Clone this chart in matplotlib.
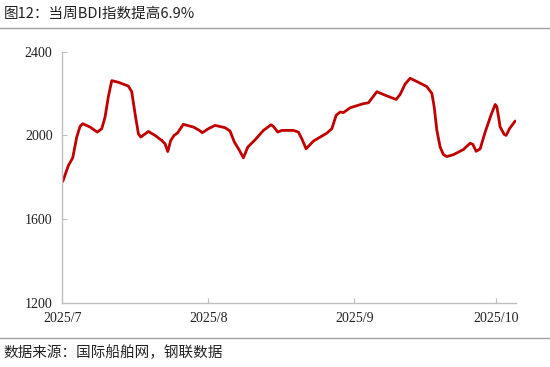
import pandas as pd
import matplotlib.pyplot as plt
from matplotlib.lines import Line2D

# BDI index readings
# day_offset = days since 2025-07-01
day_offset = [
    0.1, 1.27, 2.21, 3.06, 3.76, 4.33, 5.88, 7.43, 8.37, 9.07,
    9.77, 10.49, 11.89, 14.01, 14.73, 15.44, 16.14, 16.65, 18.26, 19.68,
    21.10, 21.80, 22.38, 23.01, 23.72, 24.42, 25.69, 27.81, 28.87, 29.72,
    31.0, 32.42, 34.54, 35.60, 36.52, 37.52, 38.43, 39.36, 40.91, 42.68,
    44.31, 44.80, 45.73, 46.58, 49.04, 50.11, 50.83, 51.74, 53.29, 56.14,
    57.20, 58.11, 58.96, 59.66, 61.08, 63.91, 64.97, 66.75, 68.87, 70.85,
    71.70, 72.76, 73.82, 75.58, 77.37, 78.43, 78.92, 79.49, 80.19, 80.89,
    81.61, 83.01, 85.14, 86.56, 87.13, 87.83, 88.68, 89.74, 90.96, 91.87,
    92.23, 92.93, 93.78, 94.20, 94.90, 96.11,
]
bdi = [
    1780, 1855, 1893, 1992, 2043, 2056, 2040, 2016, 2032, 2088,
    2185, 2262, 2254, 2236, 2209, 2104, 2008, 1992, 2019, 2000,
    1976, 1960, 1923, 1976, 2000, 2011, 2053, 2040, 2027, 2013,
    2032, 2048, 2037, 2021, 1968, 1931, 1893, 1944, 1979, 2024,
    2051, 2043, 2016, 2024, 2024, 2016, 1984, 1936, 1973, 2011,
    2032, 2096, 2112, 2109, 2132, 2152, 2156, 2209, 2189, 2172,
    2196, 2246, 2273, 2254, 2233, 2201, 2137, 2024, 1944, 1908,
    1899, 1908, 1933, 1963, 1957, 1924, 1936, 2016, 2096, 2148,
    2137, 2040, 2005, 2000, 2032, 2069,
]
tick_dates = ["2025-07-01", "2025-08-01", "2025-09-01", "2025-10-01"]
tick_labels = ["2025/7", "2025/8", "2025/9", "2025/10"]
y_ticks = [1200, 1600, 2000, 2400]

title = "图12：当周BDI指数提高6.9%"
source = "数据来源：国际船舶网，钢联数据"

start = pd.Timestamp("2025-07-01")
x = start + pd.to_timedelta(day_offset, unit="D")

fig = plt.figure(figsize=(5.5, 3.67), dpi=100)
ax = fig.add_axes([0.1133, 0.175, 0.825, 0.684])

ax.plot(x, bdi, color="#C00000", linewidth=2.0, solid_joinstyle="round",
        solid_capstyle="round")

ax.set_ylim(1200, 2400)
ax.set_yticks(y_ticks)
ax.set_xlim(start, start + pd.Timedelta(days=96.3))
ax.set_xticks(pd.to_datetime(tick_dates))
ax.set_xticklabels(tick_labels)

for side in ["top", "right"]:
    ax.spines[side].set_visible(False)
for side in ["left", "bottom"]:
    ax.spines[side].set_color("#BFBFBF")
    ax.spines[side].set_linewidth(1.0)

ax.tick_params(direction="in", length=3.5, width=0.8, color="#BFBFBF",
               labelsize=10, pad=7, labelcolor="#222222")
for lbl in ax.get_xticklabels() + ax.get_yticklabels():
    lbl.set_family(["Liberation Serif", "DejaVu Serif"])

fig.text(0.006, 0.962, title, fontsize=10.5, va="center", ha="left",
         family=["Noto Sans CJK SC", "DejaVu Sans"], color="#222222")
fig.text(0.006, 0.040, source, fontsize=10.5, va="center", ha="left",
         family=["Noto Sans CJK SC", "DejaVu Sans"], color="#222222")

fig.add_artist(Line2D([0, 1], [0.924, 0.924], transform=fig.transFigure,
                      color="#A0A0A0", linewidth=1.0))
fig.add_artist(Line2D([0, 1], [0.079, 0.079], transform=fig.transFigure,
                      color="#A0A0A0", linewidth=1.0))

fig.savefig("out.png", dpi=100)
